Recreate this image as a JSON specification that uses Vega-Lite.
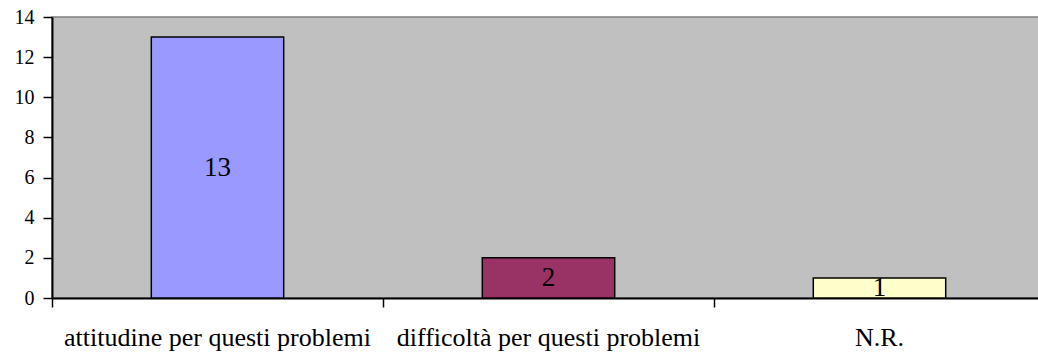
{
  "$schema": "https://vega.github.io/schema/vega-lite/v6.json",
  "autosize": "none",
  "width": 993,
  "height": 281,
  "padding": {"left": 52, "top": 17, "right": 0, "bottom": 55},
  "background": "white",
  "config": {
    "view": {"fill": "#C0C0C0", "stroke": "#808080", "strokeWidth": 1.5},
    "axis": {
      "labelFont": "Times New Roman, Liberation Serif, serif",
      "labelColor": "black",
      "tickColor": "black",
      "tickWidth": 1.5,
      "domainColor": "black",
      "domainWidth": 2,
      "grid": false,
      "title": null
    },
    "axisX": {"labelFontSize": 26, "labelPadding": 17, "tickSize": 9, "labelLimit": 0, "labelAngle": 0},
    "axisY": {"labelFontSize": 20, "labelPadding": 9, "tickSize": 9}
  },
  "data": {
    "values": [
      {"categoria": "attitudine per questi problemi", "valore": 13},
      {"categoria": "difficoltà per questi problemi", "valore": 2},
      {"categoria": "N.R.", "valore": 1}
    ]
  },
  "encoding": {
    "x": {
      "field": "categoria",
      "type": "nominal",
      "sort": null,
      "scale": {"paddingInner": 0.6, "paddingOuter": 0.3},
      "axis": {
        "title": null,
        "labelAngle": 0,
        "labelLimit": 0,
        "labelFont": "Times New Roman, Liberation Serif, serif",
        "bandPosition": -0.75
      }
    }
  },
  "layer": [
    {
      "mark": {"type": "bar", "stroke": "black", "strokeWidth": 1.5},
      "encoding": {
        "y": {
          "field": "valore",
          "type": "quantitative",
          "scale": {"domain": [0, 14]},
          "axis": {
            "title": null,
            "labelFont": "Times New Roman, Liberation Serif, serif",
            "values": [0, 2, 4, 6, 8, 10, 12, 14]
          }
        },
        "color": {
          "field": "categoria",
          "type": "nominal",
          "sort": null,
          "scale": {"range": ["#9999FF", "#993366", "#FFFFCC"]},
          "legend": null
        }
      }
    },
    {
      "transform": [{"calculate": "datum.valore / 2", "as": "meta"}],
      "mark": {"type": "text", "fontSize": 27, "font": "Times New Roman, Liberation Serif, serif", "color": "black", "baseline": "middle", "align": "center"},
      "encoding": {
        "y": {"field": "meta", "type": "quantitative"},
        "text": {"field": "valore", "type": "quantitative"}
      }
    }
  ]
}
